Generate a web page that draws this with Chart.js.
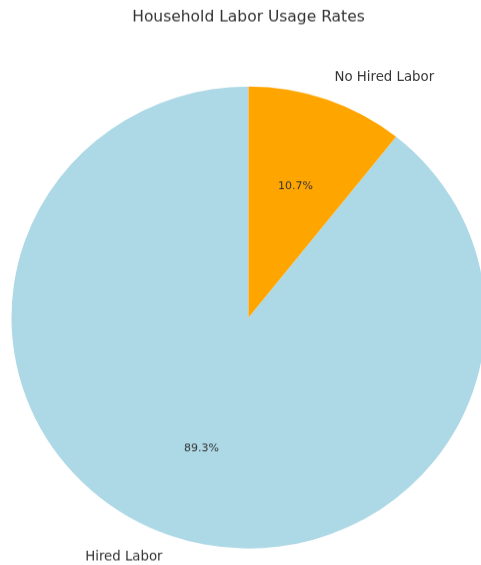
<!DOCTYPE html>
<html>
<head>
<meta charset="utf-8">
<script src="https://cdn.jsdelivr.net/npm/chart.js@4/dist/chart.umd.min.js"></script>
<style>
  html, body { margin: 0; padding: 0; background: #fff; overflow: hidden; }
  #wrap { position: relative; width: 481px; height: 565px; overflow: hidden; }
  /* the figure is rendered a little taller and squeezed vertically to fit the page */
  canvas { display: block; transform-origin: 0 0; transform: scaleY(0.9747); }
</style>
</head>
<body>
<div id="wrap"><canvas id="pie" width="500" height="580"></canvas></div>
<script>
// Labour usage shares (percent of households)
const categories = ['Hired Labor', 'No Hired Labor'];
const shares = [89.3, 10.7];
const sliceColors = ['#ADD8E6', '#FFA500'];
const chartTitle = 'Household Labor Usage Rates';

// Start the first slice so that the small slice sits clockwise from 12 o'clock
const startRotation = shares[1] / (shares[0] + shares[1]) * 360;

const FONT = '"DejaVu Sans", sans-serif';

const sliceLabels = {
  id: 'sliceLabels',
  afterDatasetsDraw(chart) {
    const ctx = chart.ctx;
    const meta = chart.getDatasetMeta(0);
    ctx.save();
    meta.data.forEach((arc, i) => {
      const p = arc.getProps(['x', 'y', 'startAngle', 'endAngle', 'outerRadius'], true);
      const mid = (p.startAngle + p.endAngle) / 2;
      const c = Math.cos(mid), s = Math.sin(mid);
      // category name outside the rim
      ctx.fillStyle = '#333333';
      ctx.font = '13.3px ' + FONT;
      ctx.textBaseline = 'middle';
      ctx.textAlign = c >= 0 ? 'left' : 'right';
      ctx.fillText(categories[i], p.x + c * p.outerRadius * 1.1, p.y + s * p.outerRadius * 1.1);
      // percentage inside the slice
      ctx.font = '11px ' + FONT;
      ctx.textAlign = 'center';
      ctx.fillText(shares[i].toFixed(1) + '%', p.x + c * p.outerRadius * 0.6, p.y + s * p.outerRadius * 0.6);
    });
    // title
    ctx.font = '15.5px ' + FONT;
    ctx.textAlign = 'center';
    ctx.textBaseline = 'middle';
    ctx.fillStyle = '#333333';
    ctx.fillText(chartTitle, 248.5, 17.6);
    ctx.restore();
  }
};

new Chart(document.getElementById('pie'), {
  type: 'pie',
  data: {
    labels: categories,
    datasets: [{
      data: shares,
      backgroundColor: sliceColors,
      borderWidth: 0,
      hoverOffset: 0
    }]
  },
  options: {
    responsive: false,
    animation: false,
    rotation: startRotation,
    layout: { padding: { left: 11.5, right: 14.5, top: 88.7, bottom: 17.3 } },
    plugins: {
      legend: { display: false },
      title: { display: false },
      tooltip: { enabled: false }
    }
  },
  plugins: [sliceLabels]
});
</script>
</body>
</html>
